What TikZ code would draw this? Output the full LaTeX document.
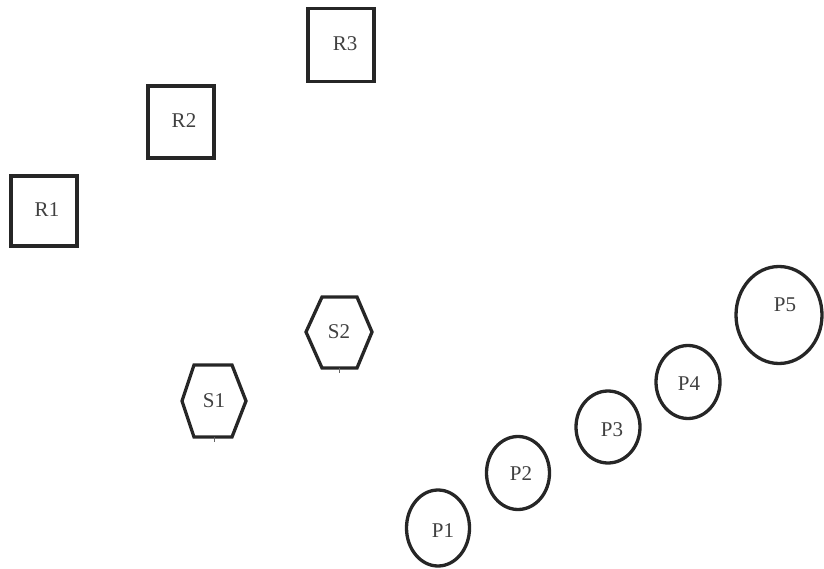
\documentclass[tikz,border=0pt]{standalone}
\usepackage{fontspec}
\usetikzlibrary{shapes.geometric}
\setmainfont{Liberation Serif}
\begin{document}
\begin{tikzpicture}[x=1pt,y=-1pt,
  lbl/.style={font=\fontsize{21}{22}\selectfont, text=black!75, inner sep=0pt},
  rbox/.style={draw=black!85, line width=3.3pt, minimum width=66pt, minimum height=70pt, inner sep=0pt},
  pnode/.style={draw=black!85, line width=3.3pt, ellipse, inner sep=0pt},
  hexline/.style={draw=black!85, line width=3.3pt, line join=miter},
  tick/.style={draw=black!60, line width=1pt}]
\useasboundingbox (0,0) rectangle (824,569);
% squares
\node[rbox] (R1) at (44,211) {};
\node[lbl] at (47,210) {R1};
\node[rbox, minimum height=72pt] (R2) at (181,122) {};
\node[lbl] at (184,121) {R2};
\node[rbox, minimum height=73pt] (R3) at (341,45) {};
\node[lbl] at (345,44) {R3};
% hexagons
\coordinate (S1c) at (214,401);
\draw[hexline] (182,401) -- (194,365) -- (232,365) -- (246,401) -- (232,437) -- (194,437) -- cycle;
\node[lbl] (S1) at (S1c) {S1};
\draw[tick] (214,437) -- (214,442);
\coordinate (S2c) at (339,332);
\draw[hexline] (306,332) -- (322,297) -- (357,297) -- (372,332) -- (357,368) -- (322,368) -- cycle;
\node[lbl] (S2) at (S2c) {S2};
\draw[tick] (339,368) -- (339,373);
% circles
\node[pnode, minimum width=63pt, minimum height=76pt] (P1) at (438,528) {};
\node[lbl] at (443,531) {P1};
\node[pnode, minimum width=63pt, minimum height=73pt] (P2) at (518,473) {};
\node[lbl] at (521,474) {P2};
\node[pnode, minimum width=64pt, minimum height=72pt] (P3) at (608,427) {};
\node[lbl] at (612,430) {P3};
\node[pnode, minimum width=64pt, minimum height=73pt] (P4) at (688,382) {};
\node[lbl] at (689,384) {P4};
\node[pnode, minimum width=86pt, minimum height=97pt] (P5) at (779,315) {};
\node[lbl] at (785,305) {P5};
\end{tikzpicture}
\end{document}
